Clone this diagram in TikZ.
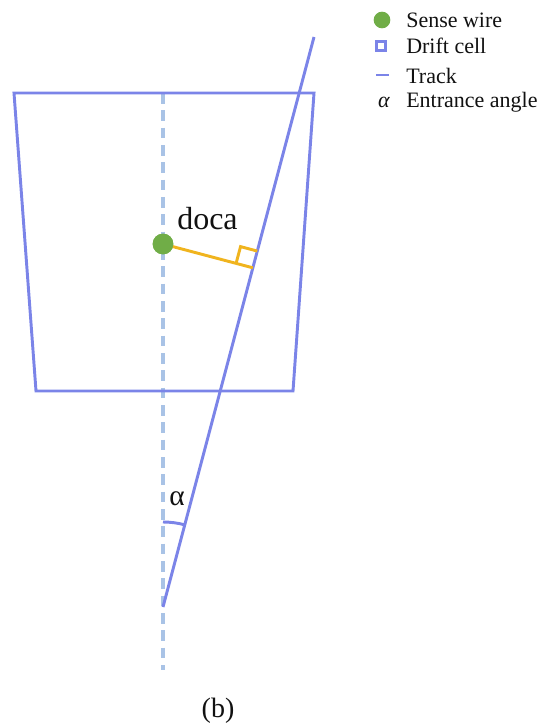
\documentclass[tikz,border=0pt]{standalone}
\usepackage{fontspec}
\setmainfont{Liberation Serif}
\usetikzlibrary{calc,positioning}
\definecolor{cellline}{HTML}{7B84E8}
\definecolor{trackline}{HTML}{7B84E8}
\definecolor{axisline}{HTML}{A9C3E6}
\definecolor{wirefill}{HTML}{70AD47}
\definecolor{docaline}{HTML}{F0B41E}
\definecolor{ink}{HTML}{111111}
\tikzset{
  % ---- cell and track --------------------------------------------
  cell/.style      = {draw=cellline, line width=2.2pt, line join=miter},
  trk/.style       = {draw=trackline, line width=2.2pt},
  axis/.style      = {draw=axisline, line width=2.6pt,
                      dash pattern=on 8pt off 5pt},
  wire/.style      = {circle, fill=wirefill, inner sep=0pt,
                      minimum size=15.5pt},
  % ---- doca ------------------------------------------------------
  doca/.style      = {draw=docaline, line width=2.2pt},
  angarc/.style    = {draw=trackline, line width=2.2pt},
  % ---- labels ----------------------------------------------------
  biglab/.style    = {font=\fontsize{24}{26}\selectfont, text=ink,
                      inner sep=0pt},
  alab/.style      = {font=\fontsize{22}{24}\selectfont, text=ink,
                      inner sep=0pt},
  leg/.style       = {font=\fontsize{16.5}{18}\selectfont, text=ink,
                      anchor=west, inner sep=0pt},
  legdot/.style    = {circle, fill=wirefill, inner sep=0pt,
                      minimum size=12.5pt},
  legbox/.style    = {draw=cellline, line width=2pt, inner sep=0pt,
                      minimum size=7pt},
}
\begin{document}
\begin{tikzpicture}[x=0.75pt,y=-0.75pt]
  \useasboundingbox (0,0) rectangle (546,727);
  % vertical reference through the wire
  \coordinate (axT) at (163,93);
  \coordinate (axB) at (163,670);
  \draw[axis] (axT) -- (axB);
  % drift cell
  \coordinate (cTL) at (14,93);
  \coordinate (cTR) at (314,93);
  \coordinate (cBR) at (293,391);
  \coordinate (cBL) at (36,391);
  \draw[cell] (cTL) -- (cTR) -- (cBR) -- (cBL) -- cycle;
  % track
  \coordinate (trkA) at (163,607);
  \coordinate (trkB) at (314,37);
  \draw[trk] (trkA) -- (trkB);
  % sense wire and doca
  \node[wire] (sw) at (163,244) {};
  \coordinate (foot) at ($(trkA)!(sw.center)!(trkB)$);
  \draw[doca] (sw.center) -- (foot);
  \coordinate (rA) at ($(foot)!13pt!(trkB)$);
  \coordinate (rB) at ($(foot)!13pt!(sw.center)$);
  \draw[doca] (rA) -- ($(rA)+(rB)-(foot)$) -- (rB);
  \node[wire] at (sw) {};
  \node[biglab, anchor=south west] (docalab) at (177,230) {doca};
  % entrance angle
  \coordinate (arcS) at ($(trkA)+(0,-85)$);
  \draw[angarc] (arcS) arc[start angle=-90, end angle=-75.16, radius=85];
  \node[alab] (alphalab) at (177,499) {α};
  % legend
  \node[legdot] (k1) at (382,20) {};
  \node[legbox] (k2) at (381,46) {};
  \coordinate (k3a) at (376,75);
  \coordinate (k3b) at (389,75);
  \draw[trk] (k3a) -- (k3b);
  \node[leg, anchor=center] (k4) at (384,102) {\textit{α}};
  \node[leg] (t1) at (406,20) {Sense wire};
  \node[leg] (t2) at (406,46) {Drift cell};
  \node[leg] (t3) at (406,76) {Track};
  \node[leg] (t4) at (406,102) {Entrance angle};
  % panel tag
  \node[font=\fontsize{21}{23}\selectfont, text=ink] (tag) at (218,711) {(b)};
\end{tikzpicture}
\end{document}
